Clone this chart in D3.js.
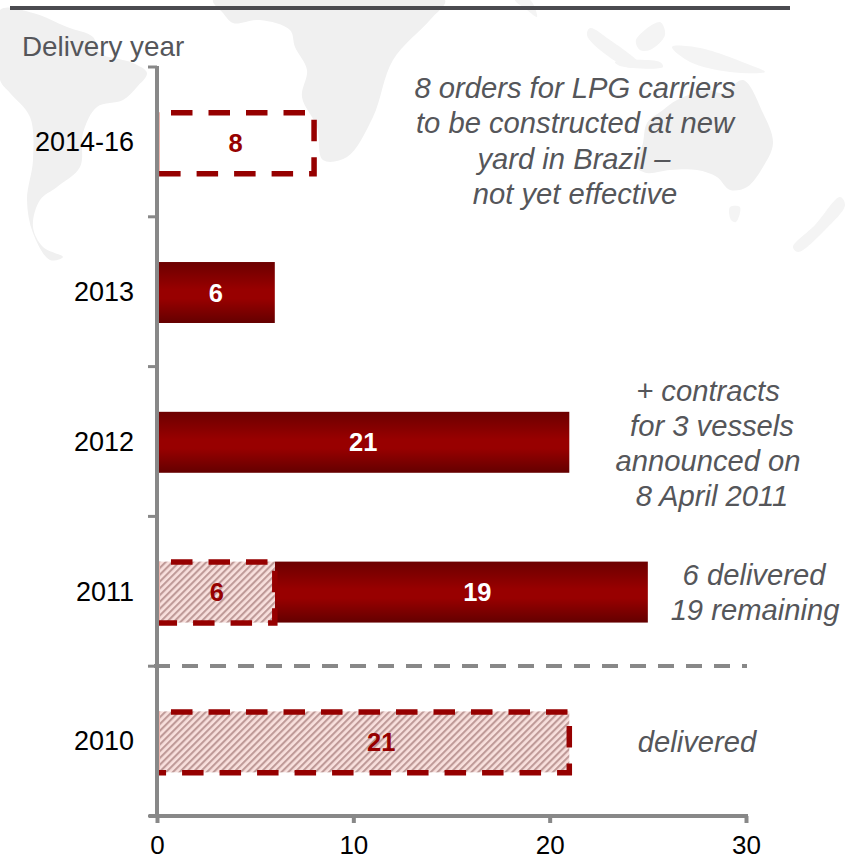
<!DOCTYPE html>
<html><head><meta charset="utf-8">
<script src="https://cdn.jsdelivr.net/npm/d3@7"></script>
<style>html,body{margin:0;padding:0;background:#fff}svg{display:block}text{font-family:"Liberation Sans",Arial,sans-serif}</style>
</head><body><svg id="c" width="859" height="859"></svg>
<script>
const categories=["2014-16","2013","2012","2011","2010"];
const hollowValues=[8,0,0,0,0];
const hatchedValues=[0,0,0,6,21];
const solidValues=[0,6,21,19,0];
const xTicks=[0,10,20,30];
const yAxisTitle="Delivery year";
const notes=[
 {t:"8 orders for LPG carriers",x:575,y:98},
 {t:"to be constructed at new",x:575,y:133},
 {t:"yard in Brazil –",x:574,y:169},
 {t:"not yet effective",x:575,y:204},
 {t:"+ contracts",x:708,y:401},
 {t:"for 3 vessels",x:712,y:436},
 {t:"announced on",x:708,y:471},
 {t:"8 April 2011",x:712,y:506},
 {t:"6 delivered",x:754,y:585},
 {t:"19 remaining",x:755,y:620},
 {t:"delivered",x:697,y:752}];
// decorative world-map backdrop, as [x,y] outlines
const land=[
 [[0,10],[33,13],[67,27],[93,37],[100,53],[133,63],[147,73],[137,87],[123,100],[97,107],[83,133],[80,167],[57,187],[40,200],[33,227],[43,247],[63,257],[50,260],[33,233],[27,200],[33,160],[30,117],[10,93],[0,80]],
 [[213,0],[223,13],[233,23],[260,20],[290,30],[295,47],[307,70],[302,97],[317,127],[323,160],[347,157],[373,117],[393,60],[430,20],[445,0]],
 [[663,110],[677,100],[707,90],[723,93],[743,80],[763,113],[773,143],[763,167],[747,187],[730,190],[717,177],[697,170],[670,170],[647,173],[637,167],[643,143],[647,123]]];
const faintLand=[
 [[515,0],[530,0],[537,17],[527,10]],
 [[730,207],[740,207],[736,222],[731,220]],
 [[793,247],[815,225],[840,197],[845,205],[825,230],[798,252]],
 [[590,28],[610,40],[640,65],[630,68],[600,50],[587,35]],
 [[636,40],[660,22],[665,35],[650,50],[640,50]],
 [[615,62],[660,62],[663,67],[620,66]],
 [[672,47],[700,48],[750,65],[765,72],[730,72],[690,62]]];

const svg=d3.select("#c");
const x=d3.scaleLinear().domain([0,30]).range([157,746]);
const y=d3.scaleBand().domain(categories).range([67.3,817.3]).paddingInner(0.593).paddingOuter(0.3);
const defs=svg.append("defs");
const g=defs.append("linearGradient").attr("id","bar").attr("x1",0).attr("x2",0).attr("y1",0).attr("y2",1);
[[0,"#6c0000"],[.45,"#980000"],[.6,"#980000"],[1,"#640000"]].forEach(s=>g.append("stop").attr("offset",s[0]).attr("stop-color",s[1]));
const p=defs.append("pattern").attr("id","hatch").attr("width",4.8).attr("height",4.8).attr("patternUnits","userSpaceOnUse").attr("patternTransform","rotate(-45)");
p.append("rect").attr("width",4.8).attr("height",4.8).attr("fill","#f8e0dd");
p.append("rect").attr("width",4.8).attr("height",2.1).attr("fill","#bf9a98");

const smooth=d3.line().curve(d3.curveCatmullRomClosed.alpha(0.5));
svg.append("g").selectAll("path").data(land).join("path").attr("d",d=>smooth(d)).attr("fill","#f0f0f0");
svg.append("g").selectAll("path").data(faintLand).join("path").attr("d",d=>smooth(d)).attr("fill","#f4f4f4");
svg.append("line").attr("x1",10).attr("x2",790).attr("y1",8).attr("y2",8).attr("stroke","#4b4b50").attr("stroke-width",4);

const bh=y.bandwidth();
const solid=categories.map((c,i)=>({c,a:hatchedValues[i],v:solidValues[i]})).filter(d=>d.v>0);
svg.append("g").selectAll("rect").data(solid).join("rect")
 .attr("x",d=>x(d.a)).attr("width",d=>x(d.a+d.v)-x(d.a)).attr("y",d=>y(d.c)).attr("height",bh).attr("fill","url(#bar)");
const hatched=categories.map((c,i)=>({c,v:hatchedValues[i]})).filter(d=>d.v>0);
svg.append("g").selectAll("rect").data(hatched).join("rect")
 .attr("x",x(0)).attr("width",d=>x(d.v)-x(0)).attr("y",d=>y(d.c)).attr("height",bh).attr("fill","url(#hatch)");
const outlined=categories.map((c,i)=>({c,v:hollowValues[i]+hatchedValues[i]})).filter(d=>d.v>0);
const olG=svg.append("g");
olG.selectAll("line").data(outlined).join("line").attr("x1",x(0)+2.5).attr("x2",x(0)+2.5).attr("y1",d=>y(d.c)).attr("y2",d=>y(d.c)+bh).attr("stroke","#f0b8b0").attr("stroke-width",1);
olG.selectAll("path").data(outlined).join("path")
 .attr("d",d=>{const a=x(0),b=x(d.v),t=y(d.c)+.5,u=t+bh;return `M${a},${t}H${b}V${u}H${a}`;})
 .attr("fill","none").attr("stroke","#960000").attr("stroke-width",5.5).attr("stroke-dasharray","21.5 16").attr("stroke-dashoffset",-14);

const ax=d3.axisBottom(x).tickValues(xTicks).tickSize(7).tickPadding(12).tickSizeOuter(0);
const gx=svg.append("g").attr("transform","translate(0,816)").call(ax);
gx.selectAll("path,line").attr("stroke","#888").attr("stroke-width",4);
gx.select("path.domain").attr("d",`M149,0H${x(30)+2}`);
gx.selectAll("text").attr("font-size",26).attr("fill","#000").attr("dy","0.72em");
const ticksY=d3.range(6).map(i=>67+i*749/5);
const gy=svg.append("g");
gy.append("line").attr("x1",157).attr("x2",157).attr("y1",66).attr("y2",816).attr("stroke","#888").attr("stroke-width",4);
gy.selectAll("line.t").data(ticksY).join(enter=>enter.append("line").attr("class","t")).attr("x1",148).attr("x2",157).attr("y1",d=>d).attr("y2",d=>d).attr("stroke","#888").attr("stroke-width",3);
gy.selectAll("text").data(categories).join("text").attr("x",134).attr("y",d=>y(d)+bh/2+8.5).attr("text-anchor","end").attr("font-size",27).text(d=>d);
svg.append("text").attr("x",22).attr("y",56).attr("font-size",27.8).attr("fill","#55565a").text(yAxisTitle);
svg.append("line").attr("x1",150).attr("x2",747).attr("y1",666).attr("y2",666).attr("stroke","#888").attr("stroke-width",4).attr("stroke-dasharray","16 12").attr("stroke-dashoffset",24);

const labels=[];
categories.forEach((c,i)=>{
 if(hollowValues[i])labels.push({c,a:0,v:hollowValues[i],f:"#960000",n:0});
 if(hatchedValues[i])labels.push({c,a:0,v:hatchedValues[i],f:"#960000",n:c==="2010"?18:1});
 if(solidValues[i])labels.push({c,a:hatchedValues[i],v:solidValues[i],f:"#fff",n:c==="2011"?16:0});
});
svg.append("g").selectAll("text").data(labels).join("text")
 .attr("x",d=>x(d.a+d.v/2)+d.n).attr("y",d=>y(d.c)+bh/2+9).attr("text-anchor","middle").attr("font-size",25.5).attr("font-weight","bold").attr("fill",d=>d.f).text(d=>d.v);

svg.append("g").selectAll("text").data(notes).join("text")
 .attr("x",d=>d.x).attr("y",d=>d.y).attr("text-anchor","middle").attr("font-size",29.2).attr("font-style","italic").attr("fill","#55565a").text(d=>d.t);
</script></body></html>
